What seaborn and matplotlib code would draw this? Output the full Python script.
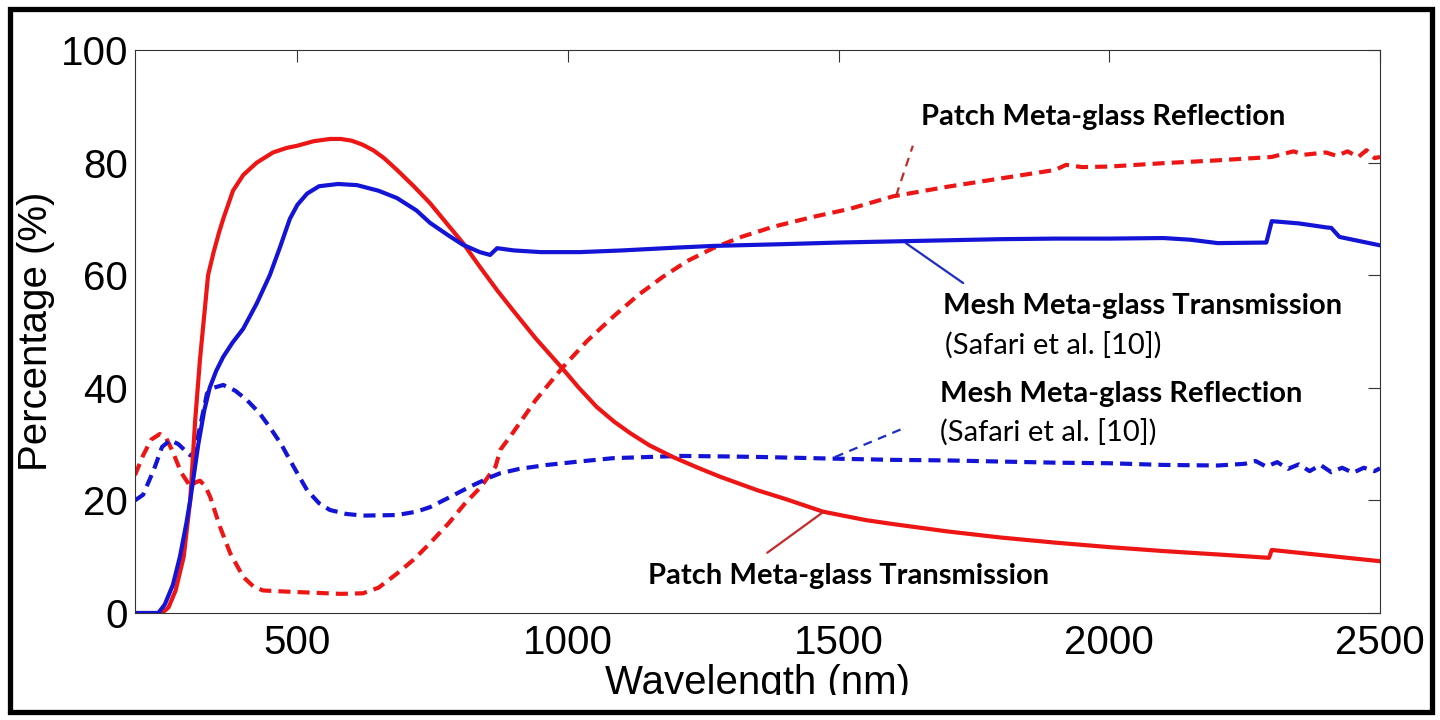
import numpy as np
import pandas as pd
import seaborn as sns
import matplotlib
matplotlib.use("Agg")
import matplotlib.pyplot as plt
from matplotlib.patches import Rectangle

sns.set_theme(style="white")
plt.rcParams["font.family"] = ["Liberation Sans", "DejaVu Sans"]

# Patch meta-glass transmission (red solid)
patch_t_wl = [200, 250, 262, 275, 290, 302, 311, 320, 335, 345, 355, 363, 381, 400, 425,
              455, 480, 500, 530, 560, 580, 600, 620, 640, 660, 684, 715, 745, 775,
              806, 837, 870, 898, 940, 989, 1020, 1053, 1085, 1114, 1150, 1194,
              1240, 1281, 1350, 1400, 1471, 1550, 1600,
              1700, 1800, 1900, 2000, 2100, 2200, 2295, 2300, 2400, 2500]
patch_t = [0, 0, 1, 4, 10, 20, 34, 45, 60, 64, 67.5, 70, 75, 77.8, 80,
           81.8, 82.6, 83, 83.8, 84.2, 84.2, 83.9, 83.2, 82.2, 80.8, 78.7, 75.8, 72.8, 69.3,
           65.7, 61.5, 57.2, 53.8, 48.8, 43.5, 40, 36.6, 34, 32, 29.8, 27.7,
           25.8, 24.2, 21.8, 20.3, 18, 16.5, 15.8,
           14.5, 13.4, 12.5, 11.7, 11, 10.4, 9.8, 11.2, 10.2, 9.2]

# Mesh meta-glass transmission (blue solid)
mesh_t_wl = [200, 243, 255, 270, 283, 295, 302, 317, 328, 338, 350, 363, 380, 400,
             425, 449, 468, 486, 500, 518, 540, 575, 610, 650, 684, 720, 745, 780,
             806, 837, 856, 869, 900, 950, 1022, 1100, 1200, 1268, 1392, 1500,
             1600, 1700, 1800, 1900, 2000, 2100, 2150, 2200, 2290, 2300, 2350,
             2400, 2410, 2425, 2500]
mesh_t = [0, 0, 1.5, 5, 10, 16, 20, 30, 36, 40, 43, 45.5, 48, 50.5,
          55, 60, 65, 70, 72.5, 74.5, 75.8, 76.2, 76, 75, 73.7, 71.5, 69.3, 67,
          65.4, 64.1, 63.6, 64.8, 64.4, 64.1, 64.1, 64.4, 64.9, 65.2, 65.5, 65.8,
          66, 66.2, 66.4, 66.5, 66.5, 66.6, 66.3, 65.7, 65.8, 69.6, 69.2,
          68.5, 68.4, 66.8, 65.3]

# Patch meta-glass reflection (red dashed)
patch_r_wl = [200, 215, 230, 246, 258, 270, 285, 302, 312, 320, 330, 339, 357, 376,
              400, 420, 437, 480, 530, 580, 621, 650, 684, 715, 745, 780, 810, 840,
              856, 866, 875, 898, 940, 989, 1035, 1083, 1130, 1175, 1220, 1268,
              1320, 1379, 1450, 1521, 1600, 1700, 1800, 1900, 1920, 1950, 2000,
              2100, 2200, 2300, 2340, 2360, 2400, 2420, 2440, 2460, 2475, 2490, 2500]
patch_r = [24.5, 28, 30.8, 31.8, 31, 28.6, 25, 22.5, 23.2, 23.5, 22.5, 20.6, 15.3, 10.6,
           6.4, 4.6, 4, 3.8, 3.6, 3.4, 3.5, 4.5, 7, 9.5, 12.4, 16, 19.5, 22.5,
           24.7, 26, 29, 32, 37.8, 43.5, 48.3, 52.6, 56.5, 59.7, 62.5, 64.8,
           66.8, 68.6, 70.3, 71.8, 74, 75.7, 77.2, 78.7, 79.6, 79.2, 79.3,
           79.9, 80.4, 81, 82, 81.4, 81.8, 81.2, 82, 81, 82.2, 80.8, 81]

# Mesh meta-glass reflection (blue dashed)
mesh_r_wl = [200, 215, 235, 250, 265, 280, 302, 310, 320, 333, 345, 363, 385, 407,
             430, 449, 470, 486, 500, 518, 540, 560, 590, 621, 684, 720, 745, 780,
             820, 856, 874, 910, 961, 1020, 1083, 1207, 1300, 1360, 1500, 1600,
             1700, 1800, 1900, 2000, 2100, 2200, 2250, 2270, 2290, 2310, 2330,
             2350, 2370, 2390, 2410, 2430, 2450, 2470, 2490, 2500]
mesh_r = [20, 21, 25.5, 29.5, 30.7, 30, 28, 28.5, 33, 39, 40, 40.5, 39.5, 37.8,
          35.5, 33, 30, 27.2, 24.8, 21.8, 19.5, 18.3, 17.6, 17.3, 17.4, 18, 18.8, 20.5,
          22.5, 24.1, 24.8, 25.6, 26.3, 26.9, 27.5, 27.9, 27.8, 27.7, 27.4, 27.2,
          27.1, 26.9, 26.7, 26.6, 26.3, 26.2, 26.5, 27, 26, 26.8, 25.6,
          26.4, 25.2, 26.3, 25, 25.8, 24.9, 25.8, 25.2, 25.7]

red = "#ee1515"
blue = "#1414d6"

fig = plt.figure(figsize=(14.4, 7.2), dpi=100)
ax = fig.add_axes([135 / 1440, 107 / 720, 1245 / 1440, 563 / 720])

dash = (2.9, 1.7)
sns.lineplot(x=patch_r_wl, y=patch_r, ax=ax, color=red, lw=3,
             estimator=None, sort=False).lines[-1].set_dashes(dash)
sns.lineplot(x=mesh_r_wl, y=mesh_r, ax=ax, color=blue, lw=3,
             estimator=None, sort=False).lines[-1].set_dashes(dash)
sns.lineplot(x=patch_t_wl, y=patch_t, ax=ax, color=red, lw=3,
             estimator=None, sort=False)
sns.lineplot(x=mesh_t_wl, y=mesh_t, ax=ax, color=blue, lw=3,
             estimator=None, sort=False)

ax.set_xlim(200, 2500)
ax.set_ylim(0, 100)
ax.set_xticks([500, 1000, 1500, 2000, 2500])
ax.set_yticks([0, 20, 40, 60, 80, 100])
ax.tick_params(direction="in", length=8.5, width=0.8, color="#333333",
               labelsize=29, labelcolor="black", top=True, right=True)
ax.tick_params(axis="x", pad=8)
ax.tick_params(axis="y", pad=5)
for s in ax.spines.values():
    s.set_color("#333333")
    s.set_linewidth(0.8)
ax.set_xlabel("Wavelength (nm)", fontsize=29, labelpad=1, color="black")
ax.set_ylabel("Percentage (%)", fontsize=29, labelpad=4, color="black")

# leader lines
ax.plot([1606, 1637], [74.1, 83.0], color="#c42a2a", lw=1.6, dashes=(4, 3))
ax.plot([1624, 1730], [65.7, 58.6], color="#1c2cc4", lw=1.6)
ax.plot([1493, 1622], [27.7, 32.9], color="#1c2cc4", lw=1.6, dashes=(4, 3))
ax.plot([1471, 1368], [17.9, 10.7], color="#c42a2a", lw=1.6)

lab = dict(family=["Lato", "DejaVu Sans"], fontsize=21, color="black", va="center")
ax.text(1652, 88.1, "Patch Meta-glass Reflection", fontweight="bold", **lab)
ax.text(1693, 54.5, "Mesh Meta-glass Transmission", fontweight="bold", **lab)
ax.text(1696, 47.6, "(Safari et al. [10])", **lab)
ax.text(1687, 38.9, "Mesh Meta-glass Reflection", fontweight="bold", **lab)
ax.text(1687, 32.1, "(Safari et al. [10])", **lab)
ax.text(1148, 6.6, "Patch Meta-glass Transmission", fontweight="bold", **lab)

# white strip that hides the foot of the x label, then the outer frame
fig.add_artist(Rectangle((12 / 1440, 10 / 720), 1418 / 1440, 15 / 720,
                         transform=fig.transFigure, facecolor="white",
                         edgecolor="none", zorder=5))
fig.add_artist(Rectangle((10 / 1440, 8 / 720), 1422 / 1440, 703 / 720,
                         transform=fig.transFigure, facecolor="none",
                         edgecolor="black", lw=3.8, zorder=6))

fig.savefig("out.png", dpi=100)
